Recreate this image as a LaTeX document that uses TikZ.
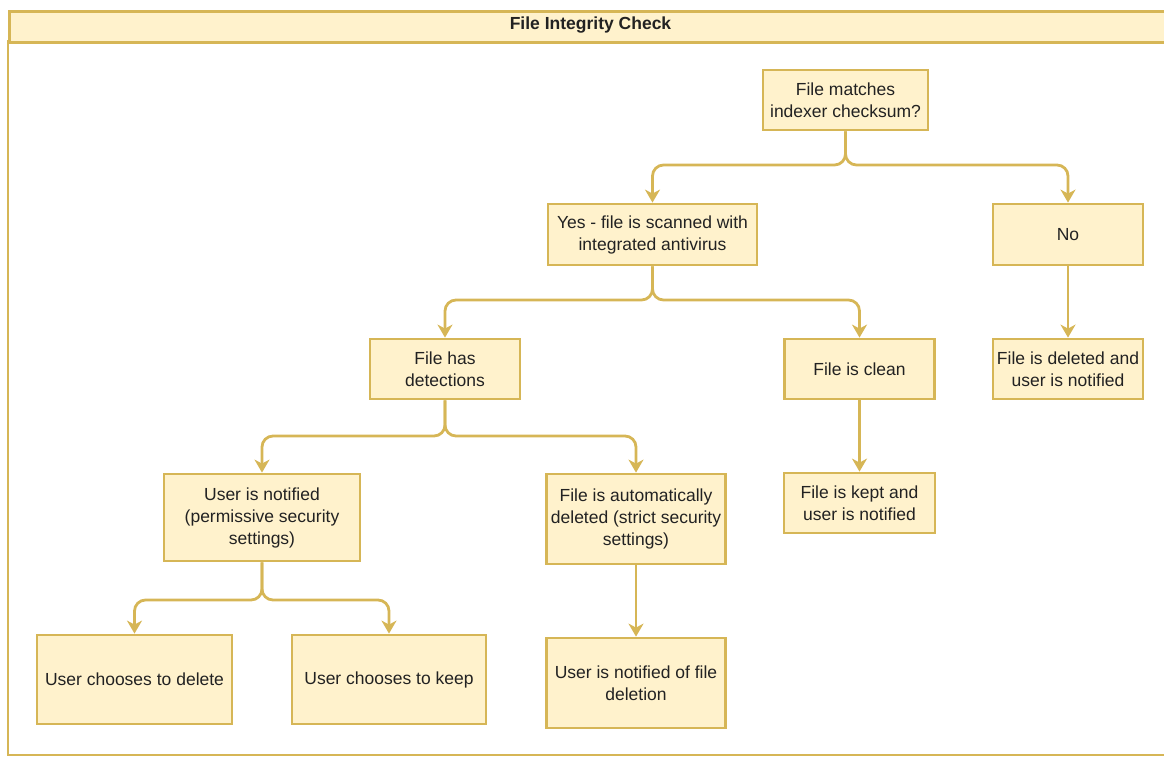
\documentclass[tikz,border=0pt]{standalone}
\usepackage{fontspec}
\setmainfont{Liberation Sans}
\usetikzlibrary{arrows.meta}
\definecolor{boxfill}{HTML}{FFF2CC}
\definecolor{boxline}{HTML}{D6B656}
\definecolor{txt}{HTML}{222222}
\tikzset{
  box/.style={draw=boxline, fill=boxfill, line width=2.8pt, align=center, text=txt,
    font=\fontsize{17.5}{22}\selectfont, inner sep=2pt},
  conn/.style={draw=boxline, line width=2.8pt, rounded corners=11pt,
    -{Stealth[length=13pt,width=15pt,inset=4pt]}},
}
\begin{document}
\begin{tikzpicture}[x=1pt,y=-1pt]
\useasboundingbox (0,0) rectangle (1164,756);
\begin{scope}
\clip (0,0) rectangle (1164,756);
% frame
\draw[boxline, line width=2.8pt] (8,41) rectangle (1180,755);
\node[draw=boxline, fill=boxfill, line width=2.8pt, minimum width=1172pt, minimum height=31pt,
  anchor=north west, inner sep=0pt] (titlebar) at (8,10) {};
\end{scope}
\node[text=txt, font=\bfseries\fontsize{17.5}{22}\selectfont] (title) at (590.5,25.5) {File Integrity Check};

\node[box, minimum width=165pt, minimum height=60pt] (n1) at (845.5,100) {File matches\\indexer checksum?};
\node[box, minimum width=209pt, minimum height=61pt] (n2) at (652.5,234.5) {Yes - file is scanned with\\integrated antivirus};
\node[box, minimum width=150pt, minimum height=61pt] (n3) at (1068,234.5) {No};
\node[box, minimum width=150pt, minimum height=60pt] (n4) at (445,369) {File has\\detections};
\node[box, minimum width=150pt, minimum height=60pt] (n5) at (859.5,369) {File is clean};
\node[box, minimum width=150pt, minimum height=60pt] (n6) at (1068,369) {File is deleted and\\user is notified};
\node[box, minimum width=196pt, minimum height=87pt] (n7) at (262,517.5) {User is notified\\(permissive security\\settings)};
\node[box, minimum width=179pt, minimum height=90pt] (n8) at (636,519) {File is automatically\\deleted (strict security\\settings)};
\node[box, minimum width=151pt, minimum height=60pt] (n9) at (859.5,503) {File is kept and\\user is notified};
\node[box, minimum width=195pt, minimum height=89pt] (n10) at (134.5,679.5) {User chooses to delete};
\node[box, minimum width=194pt, minimum height=89pt] (n11) at (389,679.5) {User chooses to keep};
\node[box, minimum width=179pt, minimum height=90pt] (n12) at (636,683) {User is notified of file\\deletion};

\coordinate (j1) at (845.5,165);
\coordinate (j2) at (652.5,300);
\coordinate (j4) at (445,436);
\coordinate (j7) at (262,600);

\draw[conn] (n1.south) -- (j1) -| (n2.north);
\draw[conn] (n1.south) -- (j1) -| (n3.north);
\draw[conn] (n2.south) -- (j2) -| (n4.north);
\draw[conn] (n2.south) -- (j2) -| (n5.north);
\draw[conn] (n4.south) -- (j4) -| (n7.north);
\draw[conn] (n4.south) -- (j4) -| (n8.north);
\draw[conn] (n7.south) -- (j7) -| (n10.north);
\draw[conn] (n7.south) -- (j7) -| (n11.north);
\draw[conn] (n3.south) -- (n6.north);
\draw[conn] (n5.south) -- (n9.north);
\draw[conn] (n8.south) -- (n12.north);
\end{tikzpicture}
\end{document}
